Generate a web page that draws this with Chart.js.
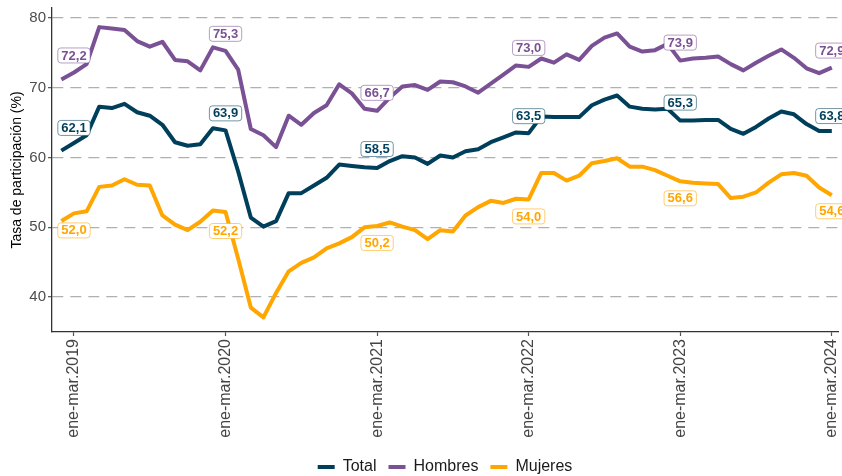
<!DOCTYPE html>
<html>
<head>
<meta charset="utf-8">
<script src="https://cdn.jsdelivr.net/npm/chart.js@4.4.1/dist/chart.umd.min.js"></script>
<style>
  body { margin: 0; background: #fff; }
  #wrap { width: 842px; height: 476px; }
</style>
</head>
<body>
<div id="wrap"><canvas id="tasa-graph" width="842" height="476"></canvas></div>
<script>
// trimestres móviles
const periods = [
  "dic-feb.2019",
  "ene-mar.2019", "feb-abr.2019", "mar-may.2019", "abr-jun.2019", "may-jul.2019", "jun-ago.2019",
  "jul-sep.2019", "ago-oct.2019", "sep-nov.2019", "oct-dic.2019", "nov-ene.2020", "dic-feb.2020",
  "ene-mar.2020", "feb-abr.2020", "mar-may.2020", "abr-jun.2020", "may-jul.2020", "jun-ago.2020",
  "jul-sep.2020", "ago-oct.2020", "sep-nov.2020", "oct-dic.2020", "nov-ene.2021", "dic-feb.2021",
  "ene-mar.2021", "feb-abr.2021", "mar-may.2021", "abr-jun.2021", "may-jul.2021", "jun-ago.2021",
  "jul-sep.2021", "ago-oct.2021", "sep-nov.2021", "oct-dic.2021", "nov-ene.2022", "dic-feb.2022",
  "ene-mar.2022", "feb-abr.2022", "mar-may.2022", "abr-jun.2022", "may-jul.2022", "jun-ago.2022",
  "jul-sep.2022", "ago-oct.2022", "sep-nov.2022", "oct-dic.2022", "nov-ene.2023", "dic-feb.2023",
  "ene-mar.2023", "feb-abr.2023", "mar-may.2023", "abr-jun.2023", "may-jul.2023", "jun-ago.2023",
  "jul-sep.2023", "ago-oct.2023", "sep-nov.2023", "oct-dic.2023", "nov-ene.2024", "dic-feb.2024",
  "ene-mar.2024"
];

const total = [
  61.0,
  62.1, 63.2, 67.3, 67.1, 67.7, 66.5, 66.0, 64.7, 62.2, 61.7, 61.9, 64.2,
  63.9, 58.0, 51.4, 50.1, 50.9, 54.9, 54.9, 56.0, 57.1, 59.0, 58.8, 58.6,
  58.5, 59.5, 60.2, 60.0, 59.1, 60.3, 60.0, 60.9, 61.2, 62.2, 62.9, 63.6,
  63.5, 65.9, 65.8, 65.8, 65.8, 67.5, 68.3, 68.9, 67.3, 67.0, 66.9, 67.0,
  65.3, 65.3, 65.4, 65.4, 64.1, 63.4, 64.4, 65.6, 66.6, 66.2, 64.8, 63.8,
  63.8
];

const hombres = [
  71.2,
  72.2, 73.4, 78.7, 78.5, 78.3, 76.7, 75.9, 76.6, 74.0, 73.8, 72.5, 75.8,
  75.3, 72.6, 64.1, 63.2, 61.5, 66.0, 64.7, 66.4, 67.5, 70.5, 69.2, 67.0,
  66.7, 68.6, 70.2, 70.4, 69.7, 70.9, 70.8, 70.2, 69.3, 70.6, 71.9, 73.2,
  73.0, 74.2, 73.6, 74.8, 74.0, 76.0, 77.2, 77.8, 75.9, 75.2, 75.4, 76.3,
  73.9, 74.2, 74.3, 74.5, 73.4, 72.5, 73.6, 74.6, 75.5, 74.3, 72.8, 72.1,
  72.9
];

const mujeres = [
  50.9,
  52.0, 52.3, 55.8, 56.0, 56.9, 56.1, 56.0, 51.7, 50.4, 49.6, 50.8, 52.4,
  52.2, 45.5, 38.5, 37.1, 40.6, 43.7, 44.9, 45.7, 47.0, 47.7, 48.6, 50.0,
  50.2, 50.7, 50.1, 49.6, 48.3, 49.6, 49.4, 51.7, 52.9, 53.8, 53.5, 54.1,
  54.0, 57.8, 57.8, 56.7, 57.4, 59.2, 59.5, 59.9, 58.7, 58.7, 58.2, 57.4,
  56.6, 56.4, 56.3, 56.2, 54.2, 54.4, 55.0, 56.4, 57.6, 57.8, 57.4, 55.7,
  54.6
];

const yTicks = [40, 50, 60, 70, 80];

// los trimestres ene-mar llevan etiqueta y marca en el eje
const labelIdx = periods.map((p, i) => (p.startsWith("ene-mar") ? i : -1)).filter((i) => i >= 0);

const colors = { total: "#003f5c", hombres: "#7a5195", mujeres: "#ffa600" };
const font = "'Liberation Sans', Arial, sans-serif";

function toXY(values) {
  return values.map((v, i) => ({ x: i, y: v }));
}

function fade(hex, a) {
  const n = parseInt(hex.slice(1), 16);
  return `rgba(${(n >> 16) & 255},${(n >> 8) & 255},${n & 255},${a})`;
}

const valueLabels = {
  id: "valueLabels",
  afterDatasetsDraw(chart, args, opts) {
    const ctx = chart.ctx;
    ctx.save();
    ctx.font = "bold 13px " + font;
    ctx.textAlign = "center";
    ctx.textBaseline = "middle";
    chart.data.datasets.forEach((ds, d) => {
      const meta = chart.getDatasetMeta(d);
      labelIdx.forEach((idx, k) => {
        const pt = meta.data[idx];
        const txt = ds.data[idx].y.toFixed(1).replace(".", ",");
        const x = pt.x;
        const y = pt.y + opts.dy[d][k];
        const w = ctx.measureText(txt).width + 7;
        const h = 15;
        ctx.beginPath();
        ctx.roundRect(x - w / 2, y - h / 2, w, h, 3);
        ctx.fillStyle = "#fff";
        ctx.fill();
        ctx.lineWidth = 1;
        ctx.strokeStyle = fade(ds.borderColor, 0.55);
        ctx.stroke();
        ctx.fillStyle = ds.borderColor;
        ctx.fillText(txt, x, y + 0.5);
      });
    });
    ctx.restore();
  },
};

const lineStyle = {
  borderWidth: 4,
  pointRadius: 0,
  tension: 0,
  borderJoinStyle: "round",
  fill: false,
};

const tasaData = {
  type: "line",
  data: {
    datasets: [
      { label: "Total", data: toXY(total), borderColor: colors.total, backgroundColor: colors.total, ...lineStyle },
      { label: "Hombres", data: toXY(hombres), borderColor: colors.hombres, backgroundColor: colors.hombres, ...lineStyle },
      { label: "Mujeres", data: toXY(mujeres), borderColor: colors.mujeres, backgroundColor: colors.mujeres, ...lineStyle },
    ],
  },
  plugins: [valueLabels],
  options: {
    responsive: false,
    animation: false,
    devicePixelRatio: 1,
    layout: { padding: { top: 8, right: 4, left: 0, bottom: -9 } },
    plugins: {
      tooltip: { enabled: false },
      legend: {
        position: "bottom",
        fullSize: false,
        labels: {
          usePointStyle: true,
          pointStyle: "line",
          pointStyleWidth: 17,
          padding: 12,
          color: "#1a1a1a",
          font: { family: font, size: 16 },
        },
      },
      valueLabels: {
        dy: [
          [-15, -17, -19, -17, -18, -15],
          [-17, -17, -18, -19, -18, -17],
          [17, 19, 17, 17, 17, 16],
        ],
      },
    },
    scales: {
      x: {
        type: "linear",
        min: -0.74,
        max: 61.49,
        afterBuildTicks: (scale) => {
          scale.ticks = labelIdx.map((i) => ({ value: i }));
        },
        afterFit: (scale) => {
          scale.height = 115;
          scale.paddingLeft = 0;
          scale.paddingRight = 0;
        },
        ticks: {
          autoSkip: false,
          maxRotation: 90,
          minRotation: 90,
          padding: 3,
          color: "#444",
          font: { family: font, size: 16 },
          callback: (v) => periods[v],
        },
        grid: {
          drawOnChartArea: false,
          drawTicks: true,
          tickLength: 4,
          tickColor: "#555",
          tickWidth: 1.2,
        },
        border: { color: "#333", width: 1.3 },
      },
      y: {
        min: 35,
        max: 81.44,
        afterBuildTicks: (scale) => {
          scale.ticks = yTicks.map((v) => ({ value: v }));
        },
        afterFit: (scale) => {
          scale.width = 52;
          scale.paddingTop = 0;
          scale.paddingBottom = 0;
        },
        title: {
          display: true,
          text: "Tasa de participación (%)",
          color: "#000",
          font: { family: font, size: 14 },
          padding: { top: 9, bottom: 0 },
        },
        ticks: {
          padding: 2,
          color: "#4d4d4d",
          font: { family: font, size: 15 },
        },
        grid: {
          color: "#b0b0b0",
          lineWidth: 1.3,
          tickLength: 4,
          tickColor: "#555",
          tickWidth: 1.2,
        },
        border: { color: "#333", width: 1.3, dash: [11, 7] },
      },
    },
  },
};

const tasaGraph = document.getElementById("tasa-graph");
const chart = new Chart(tasaGraph, tasaData);
</script>
</body>
</html>
